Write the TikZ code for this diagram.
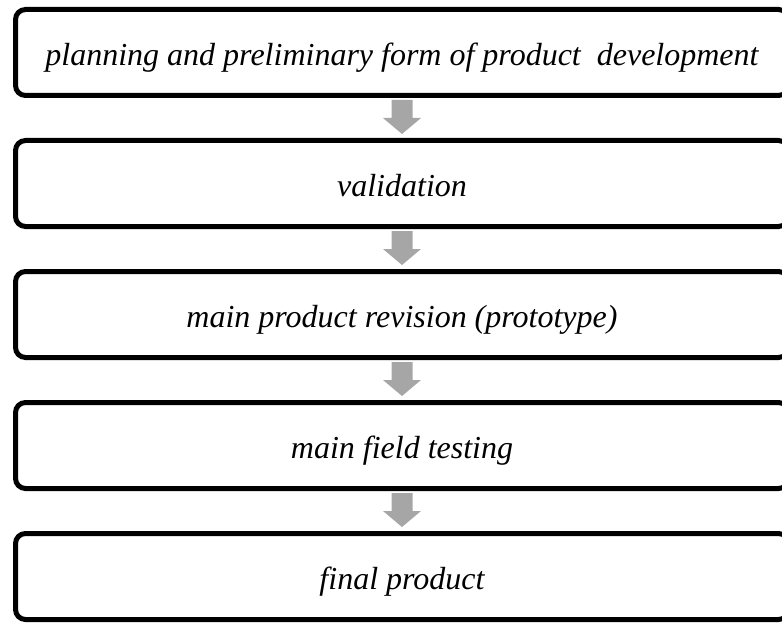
\documentclass[tikz,border=0pt]{standalone}
\usepackage{fontspec}
\setmainfont{Liberation Serif}
\usetikzlibrary{calc}
\definecolor{arrowfill}{RGB}{166,166,166}
\begin{document}
\begin{tikzpicture}[x=1pt,y=-1pt,
  stage/.style={draw, line width=5pt, rounded corners=10pt, minimum width=773pt,
    minimum height=86pt, inner sep=0pt, outer sep=0pt, anchor=north west,
    text height=28pt, text depth=2pt,
    font=\fontsize{32}{38}\selectfont\itshape},
  stagearrow/.style={fill=arrowfill}]
\useasboundingbox (0,0) rectangle (782,623);
\clip (0,0) rectangle (782,623);
\node[stage] (b1) at (15.5,9.5) {planning and preliminary form of product~ development};
\node[stage] (b2) at (15.5,140.5) {validation};
\node[stage] (b3) at (15.5,271.5) {main product revision (prototype)};
\node[stage] (b4) at (15.5,402.5) {main field testing};
\node[stage] (b5) at (15.5,533.5) {final product};
\foreach \a in {b1,b2,b3,b4}{
  \fill[stagearrow, shift={(\a.south)}] (-10.5,4.5) -- (10.5,4.5) -- (10.5,22.5) -- (19,22.5)
    -- (0,38.5) -- (-19,22.5) -- (-10.5,22.5) -- cycle;
}
\end{tikzpicture}
\end{document}
